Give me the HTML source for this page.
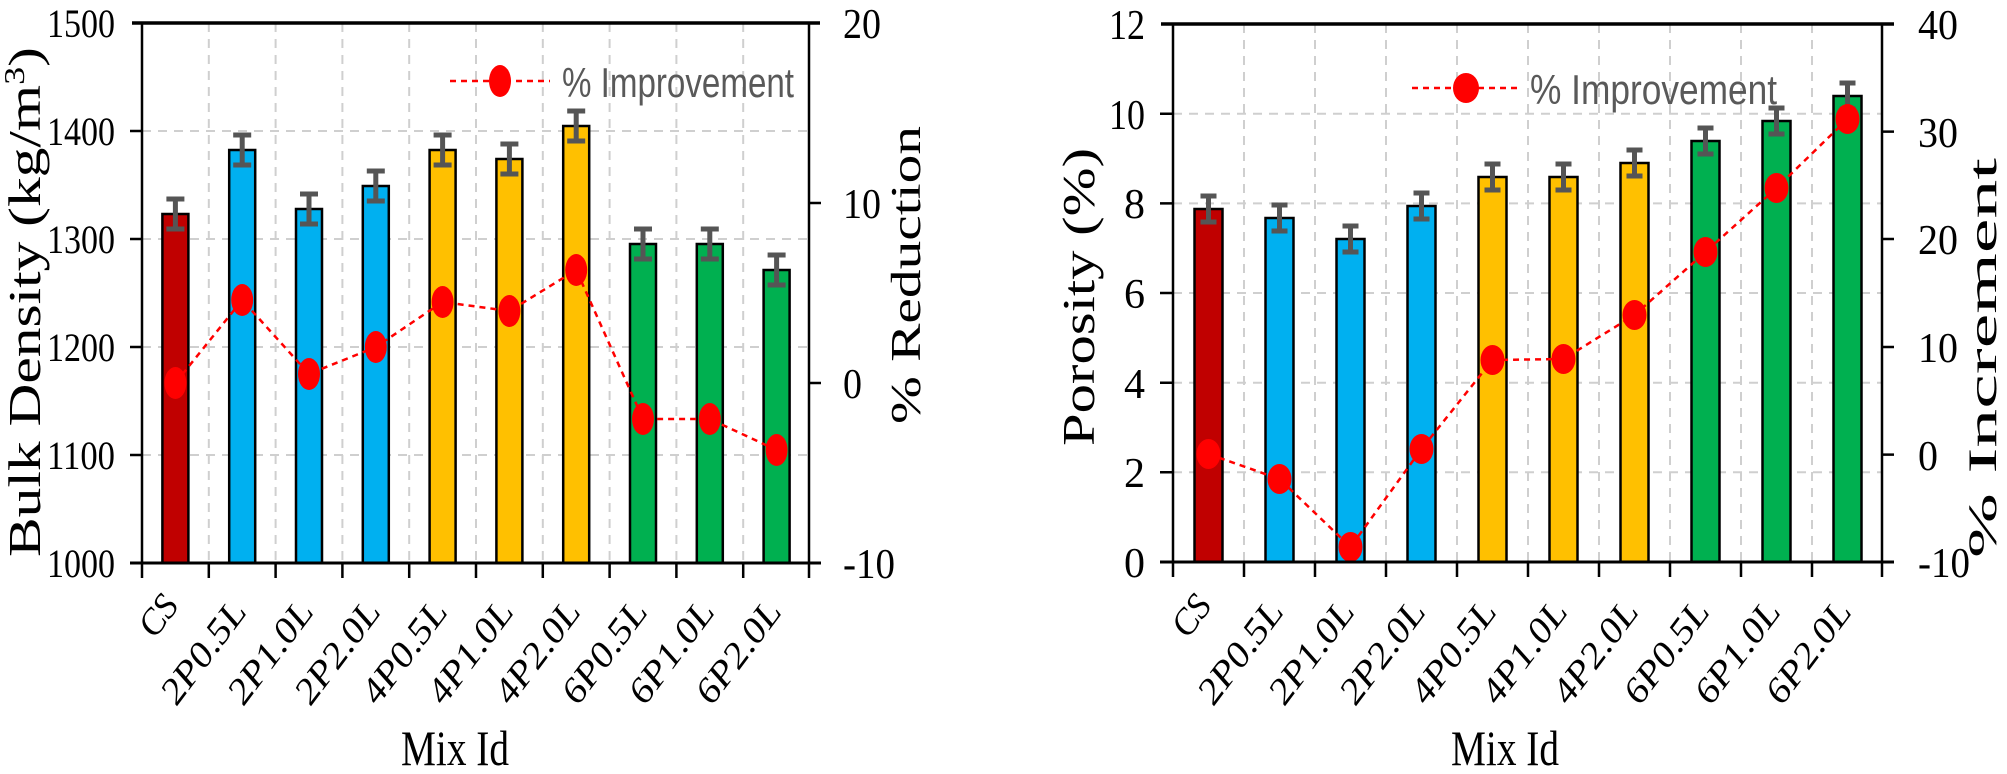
<!DOCTYPE html>
<html><head><meta charset="utf-8"><style>
html,body{margin:0;padding:0;background:#fff;}
svg{display:block;}
text{font-family:"Liberation Serif",serif;fill:#000;}
.lg{font-family:"Liberation Sans",sans-serif;fill:#595959;}
</style></head><body>
<svg width="2007" height="774" viewBox="0 0 2007 774" xmlns="http://www.w3.org/2000/svg">
<!-- ============ LEFT CHART ============ -->
<g stroke="#cfcfcf" stroke-width="2" stroke-dasharray="9,7" fill="none">
<line x1="142" y1="455" x2="810" y2="455"/><line x1="142" y1="347" x2="810" y2="347"/>
<line x1="142" y1="239" x2="810" y2="239"/><line x1="142" y1="131" x2="810" y2="131"/>
<line x1="208.8" y1="23" x2="208.8" y2="563"/><line x1="275.6" y1="23" x2="275.6" y2="563"/>
<line x1="342.4" y1="23" x2="342.4" y2="563"/><line x1="409.2" y1="23" x2="409.2" y2="563"/>
<line x1="476" y1="23" x2="476" y2="563"/><line x1="542.8" y1="23" x2="542.8" y2="563"/>
<line x1="609.6" y1="23" x2="609.6" y2="563"/><line x1="676.4" y1="23" x2="676.4" y2="563"/>
<line x1="743.2" y1="23" x2="743.2" y2="563"/>
</g>
<g stroke="#000" stroke-width="2.5">
<rect x="162.4" y="214" width="26" height="349" fill="#C00000"/>
<rect x="229.2" y="150" width="26" height="413" fill="#00B0F0"/>
<rect x="296" y="209" width="26" height="354" fill="#00B0F0"/>
<rect x="362.8" y="186" width="26" height="377" fill="#00B0F0"/>
<rect x="429.6" y="150" width="26" height="413" fill="#FFC000"/>
<rect x="496.4" y="159" width="26" height="404" fill="#FFC000"/>
<rect x="563.2" y="126" width="26" height="437" fill="#FFC000"/>
<rect x="630" y="244" width="26" height="319" fill="#00B050"/>
<rect x="696.8" y="244" width="26" height="319" fill="#00B050"/>
<rect x="763.6" y="270" width="26" height="293" fill="#00B050"/>
</g>
<g stroke="#555" stroke-width="5" fill="none">
<path d="M175.4 199V229M166.4 199H184.4M166.4 229H184.4"/>
<path d="M242.2 135V165M233.2 135H251.2M233.2 165H251.2"/>
<path d="M309 194V224M300 194H318M300 224H318"/>
<path d="M375.8 171V201M366.8 171H384.8M366.8 201H384.8"/>
<path d="M442.6 135V165M433.6 135H451.6M433.6 165H451.6"/>
<path d="M509.4 144V174M500.4 144H518.4M500.4 174H518.4"/>
<path d="M576.2 111V141M567.2 111H585.2M567.2 141H585.2"/>
<path d="M643 229V259M634 229H652M634 259H652"/>
<path d="M709.8 229V259M700.8 229H718.8M700.8 259H718.8"/>
<path d="M776.6 255V285M767.6 255H785.6M767.6 285H785.6"/>
</g>
<polyline points="175.4,383 242.2,300 309,374 375.8,347 442.6,302 509.4,311 576.2,270 643,419 709.8,419 776.6,450" fill="none" stroke="#f00" stroke-width="2.5" stroke-dasharray="6,5"/>
<g fill="#f00">
<ellipse cx="175.4" cy="383" rx="11" ry="16"/><ellipse cx="242.2" cy="300" rx="11" ry="16"/>
<ellipse cx="309" cy="374" rx="11" ry="16"/><ellipse cx="375.8" cy="347" rx="11" ry="16"/>
<ellipse cx="442.6" cy="302" rx="11" ry="16"/><ellipse cx="509.4" cy="311" rx="11" ry="16"/>
<ellipse cx="576.2" cy="270" rx="11" ry="16"/><ellipse cx="643" cy="419" rx="11" ry="16"/>
<ellipse cx="709.8" cy="419" rx="11" ry="16"/><ellipse cx="776.6" cy="450" rx="11" ry="16"/>
</g>
<g stroke="#000" fill="none">
<line x1="132" y1="23" x2="820" y2="23" stroke-width="3.5"/>
<line x1="142" y1="23" x2="142" y2="578" stroke-width="2.5"/>
<line x1="809" y1="23" x2="809" y2="578" stroke-width="2.5"/>
<line x1="130" y1="563" x2="821" y2="563" stroke-width="3"/>
<path stroke-width="2.5" d="M130 131H142M130 239H142M130 347H142M130 455H142M809 203H821M809 383H821M809 563H821"/>
<path stroke-width="2.5" d="M208.8 563V578M275.6 563V578M342.4 563V578M409.2 563V578M476 563V578M542.8 563V578M609.6 563V578M676.4 563V578M743.2 563V578"/>
</g>
<g font-size="40" text-anchor="end">
<text x="115" y="37" textLength="68" lengthAdjust="spacingAndGlyphs">1500</text>
<text x="115" y="145" textLength="68" lengthAdjust="spacingAndGlyphs">1400</text>
<text x="115" y="253" textLength="68" lengthAdjust="spacingAndGlyphs">1300</text>
<text x="115" y="361" textLength="68" lengthAdjust="spacingAndGlyphs">1200</text>
<text x="115" y="469" textLength="68" lengthAdjust="spacingAndGlyphs">1100</text>
<text x="115" y="577" textLength="68" lengthAdjust="spacingAndGlyphs">1000</text>
</g>
<g font-size="42">
<text x="843" y="38" textLength="38" lengthAdjust="spacingAndGlyphs">20</text>
<text x="843" y="218" textLength="38" lengthAdjust="spacingAndGlyphs">10</text>
<text x="843" y="398" textLength="19" lengthAdjust="spacingAndGlyphs">0</text>
<text x="843" y="578" textLength="52" lengthAdjust="spacingAndGlyphs">-10</text>
</g>
<text transform="translate(40,302) rotate(-90)" font-size="46" text-anchor="middle" textLength="510" lengthAdjust="spacingAndGlyphs">Bulk Density (kg/m<tspan dy="-16" font-size="28">3</tspan><tspan dy="16">)</tspan></text>
<text transform="translate(920,275) rotate(-90)" font-size="42" text-anchor="middle" textLength="298" lengthAdjust="spacingAndGlyphs">% Reduction</text>
<g font-size="36" font-style="italic" text-anchor="end">
<text transform="translate(180,606) rotate(-53)">CS</text>
<text transform="translate(248,612) rotate(-53)" textLength="118" lengthAdjust="spacingAndGlyphs">2P0.5L</text>
<text transform="translate(315,612) rotate(-53)" textLength="118" lengthAdjust="spacingAndGlyphs">2P1.0L</text>
<text transform="translate(382,612) rotate(-53)" textLength="118" lengthAdjust="spacingAndGlyphs">2P2.0L</text>
<text transform="translate(449,612) rotate(-53)" textLength="118" lengthAdjust="spacingAndGlyphs">4P0.5L</text>
<text transform="translate(515,612) rotate(-53)" textLength="118" lengthAdjust="spacingAndGlyphs">4P1.0L</text>
<text transform="translate(582,612) rotate(-53)" textLength="118" lengthAdjust="spacingAndGlyphs">4P2.0L</text>
<text transform="translate(649,612) rotate(-53)" textLength="118" lengthAdjust="spacingAndGlyphs">6P0.5L</text>
<text transform="translate(716,612) rotate(-53)" textLength="118" lengthAdjust="spacingAndGlyphs">6P1.0L</text>
<text transform="translate(783,612) rotate(-53)" textLength="118" lengthAdjust="spacingAndGlyphs">6P2.0L</text>
</g>
<text x="455" y="765" font-size="50" text-anchor="middle" textLength="108" lengthAdjust="spacingAndGlyphs">Mix Id</text>
<line x1="450" y1="81" x2="550" y2="81" stroke="#f00" stroke-width="2.5" stroke-dasharray="6,5"/>
<ellipse cx="500" cy="81" rx="11" ry="16" fill="#f00"/>
<text class="lg" x="562" y="97" font-size="42" textLength="232" lengthAdjust="spacingAndGlyphs">% Improvement</text>

<!-- ============ RIGHT CHART ============ -->
<g stroke="#cfcfcf" stroke-width="2" stroke-dasharray="9,7" fill="none">
<line x1="1173" y1="472.3" x2="1883" y2="472.3"/><line x1="1173" y1="382.7" x2="1883" y2="382.7"/>
<line x1="1173" y1="293" x2="1883" y2="293"/><line x1="1173" y1="203.4" x2="1883" y2="203.4"/>
<line x1="1173" y1="113.7" x2="1883" y2="113.7"/>
<line x1="1244" y1="24" x2="1244" y2="562"/><line x1="1315" y1="24" x2="1315" y2="562"/>
<line x1="1386" y1="24" x2="1386" y2="562"/><line x1="1457" y1="24" x2="1457" y2="562"/>
<line x1="1528" y1="24" x2="1528" y2="562"/><line x1="1599" y1="24" x2="1599" y2="562"/>
<line x1="1670" y1="24" x2="1670" y2="562"/><line x1="1741" y1="24" x2="1741" y2="562"/>
<line x1="1812" y1="24" x2="1812" y2="562"/>
</g>
<g stroke="#000" stroke-width="2.5">
<rect x="1194.5" y="209" width="28" height="353" fill="#C00000"/>
<rect x="1265.5" y="218" width="28" height="344" fill="#00B0F0"/>
<rect x="1336.5" y="239" width="28" height="323" fill="#00B0F0"/>
<rect x="1407.5" y="206" width="28" height="356" fill="#00B0F0"/>
<rect x="1478.5" y="177" width="28" height="385" fill="#FFC000"/>
<rect x="1549.5" y="177" width="28" height="385" fill="#FFC000"/>
<rect x="1620.5" y="163" width="28" height="399" fill="#FFC000"/>
<rect x="1691.5" y="141" width="28" height="421" fill="#00B050"/>
<rect x="1762.5" y="121" width="28" height="441" fill="#00B050"/>
<rect x="1833.5" y="96" width="28" height="466" fill="#00B050"/>
</g>
<g stroke="#555" stroke-width="5" fill="none">
<path d="M1208.5 196V222M1200.5 196H1216.5M1200.5 222H1216.5"/>
<path d="M1279.5 205V231M1271.5 205H1287.5M1271.5 231H1287.5"/>
<path d="M1350.5 226V252M1342.5 226H1358.5M1342.5 252H1358.5"/>
<path d="M1421.5 193V219M1413.5 193H1429.5M1413.5 219H1429.5"/>
<path d="M1492.5 164V190M1484.5 164H1500.5M1484.5 190H1500.5"/>
<path d="M1563.5 164V190M1555.5 164H1571.5M1555.5 190H1571.5"/>
<path d="M1634.5 150V176M1626.5 150H1642.5M1626.5 176H1642.5"/>
<path d="M1705.5 128V154M1697.5 128H1713.5M1697.5 154H1713.5"/>
<path d="M1776.5 108V134M1768.5 108H1784.5M1768.5 134H1784.5"/>
<path d="M1847.5 83V109M1839.5 83H1855.5M1839.5 109H1855.5"/>
</g>
<polyline points="1208.5,454 1279.5,479 1350.5,547 1421.5,449 1492.5,360 1563.5,359 1634.5,315 1705.5,252 1776.5,188 1847.5,119" fill="none" stroke="#f00" stroke-width="2.5" stroke-dasharray="6,5"/>
<g fill="#f00">
<ellipse cx="1208.5" cy="454" rx="12" ry="15"/><ellipse cx="1279.5" cy="479" rx="12" ry="15"/>
<ellipse cx="1350.5" cy="547" rx="12" ry="15"/><ellipse cx="1421.5" cy="449" rx="12" ry="15"/>
<ellipse cx="1492.5" cy="360" rx="12" ry="15"/><ellipse cx="1563.5" cy="359" rx="12" ry="15"/>
<ellipse cx="1634.5" cy="315" rx="12" ry="15"/><ellipse cx="1705.5" cy="252" rx="12" ry="15"/>
<ellipse cx="1776.5" cy="188" rx="12" ry="15"/><ellipse cx="1847.5" cy="119" rx="12" ry="15"/>
</g>
<g stroke="#000" fill="none">
<line x1="1161" y1="24" x2="1894" y2="24" stroke-width="3.5"/>
<line x1="1173" y1="24" x2="1173" y2="577" stroke-width="2.5"/>
<line x1="1882" y1="24" x2="1882" y2="577" stroke-width="2.5"/>
<line x1="1160" y1="562" x2="1894" y2="562" stroke-width="3"/>
<path stroke-width="2.5" d="M1160 113.7H1173M1160 203.4H1173M1160 293H1173M1160 382.7H1173M1160 472.3H1173M1882 131.6H1894M1882 239H1894M1882 347H1894M1882 454.6H1894"/>
<path stroke-width="2.5" d="M1244 562V577M1315 562V577M1386 562V577M1457 562V577M1528 562V577M1599 562V577M1670 562V577M1741 562V577M1812 562V577"/>
</g>
<g font-size="42" text-anchor="end">
<text x="1145" y="39" textLength="36" lengthAdjust="spacingAndGlyphs">12</text>
<text x="1145" y="129" textLength="36" lengthAdjust="spacingAndGlyphs">10</text>
<text x="1145" y="218">8</text>
<text x="1145" y="308">6</text>
<text x="1145" y="398">4</text>
<text x="1145" y="487">2</text>
<text x="1145" y="577">0</text>
</g>
<g font-size="42">
<text x="1918" y="39" textLength="40" lengthAdjust="spacingAndGlyphs">40</text>
<text x="1918" y="147" textLength="40" lengthAdjust="spacingAndGlyphs">30</text>
<text x="1918" y="254" textLength="40" lengthAdjust="spacingAndGlyphs">20</text>
<text x="1918" y="362" textLength="40" lengthAdjust="spacingAndGlyphs">10</text>
<text x="1918" y="470" textLength="20" lengthAdjust="spacingAndGlyphs">0</text>
<text x="1918" y="577" textLength="52" lengthAdjust="spacingAndGlyphs">-10</text>
</g>
<text transform="translate(1094,297) rotate(-90)" font-size="46" text-anchor="middle" textLength="298" lengthAdjust="spacingAndGlyphs">Porosity (%)</text>
<text transform="translate(1996,358) rotate(-90)" font-size="40" text-anchor="middle" textLength="400" lengthAdjust="spacingAndGlyphs">% Increment</text>
<g font-size="36" font-style="italic" text-anchor="end">
<text transform="translate(1213,606) rotate(-53)">CS</text>
<text transform="translate(1285,612) rotate(-53)" textLength="118" lengthAdjust="spacingAndGlyphs">2P0.5L</text>
<text transform="translate(1356,612) rotate(-53)" textLength="118" lengthAdjust="spacingAndGlyphs">2P1.0L</text>
<text transform="translate(1427,612) rotate(-53)" textLength="118" lengthAdjust="spacingAndGlyphs">2P2.0L</text>
<text transform="translate(1498,612) rotate(-53)" textLength="118" lengthAdjust="spacingAndGlyphs">4P0.5L</text>
<text transform="translate(1569,612) rotate(-53)" textLength="118" lengthAdjust="spacingAndGlyphs">4P1.0L</text>
<text transform="translate(1640,612) rotate(-53)" textLength="118" lengthAdjust="spacingAndGlyphs">4P2.0L</text>
<text transform="translate(1711,612) rotate(-53)" textLength="118" lengthAdjust="spacingAndGlyphs">6P0.5L</text>
<text transform="translate(1782,612) rotate(-53)" textLength="118" lengthAdjust="spacingAndGlyphs">6P1.0L</text>
<text transform="translate(1853,612) rotate(-53)" textLength="118" lengthAdjust="spacingAndGlyphs">6P2.0L</text>
</g>
<text x="1505" y="765" font-size="50" text-anchor="middle" textLength="108" lengthAdjust="spacingAndGlyphs">Mix Id</text>
<line x1="1412" y1="88" x2="1519" y2="88" stroke="#f00" stroke-width="2.5" stroke-dasharray="6,5"/>
<ellipse cx="1466" cy="88" rx="13" ry="15" fill="#f00"/>
<text class="lg" x="1530" y="104" font-size="42" textLength="247" lengthAdjust="spacingAndGlyphs">% Improvement</text>
</svg>
</body></html>
